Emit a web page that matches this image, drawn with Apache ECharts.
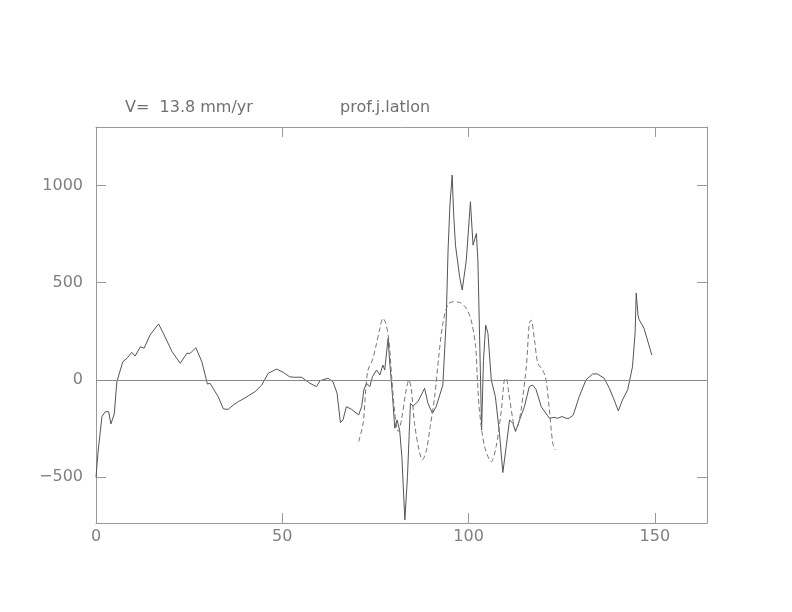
<!DOCTYPE html>
<html><head><meta charset="utf-8">
<script src="https://cdn.jsdelivr.net/npm/echarts@6/dist/echarts.min.js"></script>
<style>html,body{margin:0;padding:0;background:#fff}#c{width:792px;height:612px}</style>
</head><body><div id="c"></div>
<script>
const titleLeft = "V=  13.8 mm/yr";
const titleRight = "prof.j.latlon";
const xTicks = [0, 50, 100, 150];
const yTicks = [-500, 0, 500, 1000];
const solidPoints = [
[0,-500],[0.6,-360],[1.6,-188],[2.5,-163],[3.4,-163],[4.0,-226],[4.9,-175],[5.6,-9],[7.2,94],[8.3,111],
[9.6,142],[10.5,123],[11.9,171],[12.9,163],[14.5,231],[16.8,288],[18.3,231],[20.4,146],[22.6,86],[24.4,137],
[25.3,137],[26.8,166],[28.4,94],[29.9,-21],[30.6,-17],[32.8,-86],[34.2,-149],[35.5,-151],[36.9,-128],[38.2,-111],
[39.5,-98],[40.9,-81],[42.7,-60],[44.5,-26],[46.2,34],[48.5,56],[50.3,39],[51.9,17],[52.9,14],[55.2,14],
[57.4,-17],[59.2,-34],[60.1,-4],[62.3,9],[63.6,-9],[64.7,-68],[65.6,-219],[66.3,-205],[67.2,-137],[68.6,-151],
[70.5,-180],[71.3,-137],[71.9,-51],[72.6,-17],[73.5,-34],[74.2,17],[75.3,51],[76.2,26],[77.0,77],[77.5,51],
[78.4,214],[78.8,103],[79.6,-86],[80.2,-248],[80.8,-205],[81.5,-257],[82.1,-394],[82.9,-719],[83.6,-497],[84.4,-120],
[85.1,-134],[86.4,-111],[88.2,-43],[89.1,-120],[90.3,-171],[91.3,-137],[93.1,-26],[94.0,308],[94.5,668],[95.0,900],
[95.6,1053],[96.0,850],[96.5,690],[97.6,531],[98.3,462],[98.7,453],[99.4,616],[100.5,916],[101.2,693],[102.1,753],
[102.5,616],[103.1,103],[103.5,-257],[104.0,100],[104.6,282],[105.2,240],[106.1,0],[107.2,-86],[108.3,-274],[109.2,-476],
[110.1,-342],[111.0,-205],[111.9,-223],[112.6,-265],[113.7,-205],[115.0,-137],[116.3,-34],[117.2,-26],[118.1,-48],[119.5,-137],
[121.7,-197],[123.0,-192],[123.9,-197],[125.1,-188],[126.2,-197],[127.0,-197],[128.1,-180],[129.7,-86],[131.5,0],[133.3,31],
[134.6,31],[136.4,9],[137.8,-43],[139.1,-103],[140.2,-159],[141.3,-103],[142.7,-51],[144.0,68],[144.7,240],[145.0,447],
[145.5,330],[145.8,310],[147.1,265],[147.6,265],[149.2,128]
];
const dashedPoints = [
[70.5,-317],[71.7,-223],[72.4,-51],[73.0,51],[74.2,103],[75.3,188],[76.2,265],[77.0,317],[77.8,291],[78.6,205],
[79.3,34],[80.2,-171],[81.1,-265],[82.0,-205],[83.1,-68],[84.0,0],[84.6,-43],[85.5,-223],[86.7,-360],[87.6,-411],
[88.7,-360],[89.7,-240],[90.9,-86],[92.0,120],[93.1,291],[94.5,390],[95.8,402],[97.1,400],[98.0,395],[99.4,368],
[100.7,308],[101.9,171],[102.3,30],[102.9,-154],[104.3,-342],[106.1,-420],[107.4,-342],[108.8,-154],[109.6,0],[110.1,9],
[110.8,-68],[111.9,-205],[112.6,-257],[113.2,-240],[114.1,-154],[115.5,68],[116.3,291],[116.8,308],[117.7,205],[118.6,86],
[119.9,51],[120.8,0],[121.7,-154],[122.6,-325],[123.3,-360]
];

const axisGray = '#999';
const labelStyle = {color:'#808080', fontFamily:'DejaVu Sans', fontSize:16};
const fmt = v => (v < 0 ? '\u2212' + Math.abs(v) : String(v));
const chart = echarts.init(document.getElementById('c'), null, {renderer:'canvas'});
const baseX = {type:'value', min:0, max:164, interval:50, splitLine:{show:false},
  axisLine:{show:true, onZero:false, lineStyle:{color:axisGray, width:1}},
  axisTick:{show:true, inside:true, length:10, lineStyle:{color:axisGray}}};
const baseY = {type:'value', min:-735, max:1300, splitLine:{show:false},
  axisLine:{show:true, onZero:false, lineStyle:{color:axisGray, width:1}},
  axisTick:{show:true, inside:true, length:10, customValues:yTicks, lineStyle:{color:axisGray}}};
chart.setOption({
  animation:false,
  backgroundColor:'#fff',
  grid:{left:96, top:127, right:85, bottom:89, containLabel:false},
  xAxis:[
    Object.assign({}, baseX, {position:'bottom', axisLabel:Object.assign({show:true, margin:6, customValues:xTicks, formatter:fmt}, labelStyle)}),
    Object.assign({}, baseX, {position:'top', axisLabel:{show:false}})
  ],
  yAxis:[
    Object.assign({}, baseY, {position:'left', axisLabel:Object.assign({show:true, margin:13, customValues:yTicks, formatter:fmt}, labelStyle)}),
    Object.assign({}, baseY, {position:'right', axisLabel:{show:false}})
  ],
  graphic:[
    {type:'text', left:125, top:100, style:{text:titleLeft, fill:'#707070', font:'16px "DejaVu Sans"'}},
    {type:'text', left:340, top:100, style:{text:titleRight, fill:'#707070', font:'16px "DejaVu Sans"'}}
  ],
  series:[
    {type:'line', data:solidPoints, showSymbol:false, symbol:'none', clip:true,
     lineStyle:{color:'#555', width:1},
     markLine:{silent:true, symbol:'none', label:{show:false}, lineStyle:{color:'#888', width:1, type:'solid'}, data:[{yAxis:0}]}},
    {type:'line', data:dashedPoints, showSymbol:false, symbol:'none', smooth:0.3,
     lineStyle:{color:'#777', width:1, type:[5,3]}}
  ]
});
</script></body></html>
